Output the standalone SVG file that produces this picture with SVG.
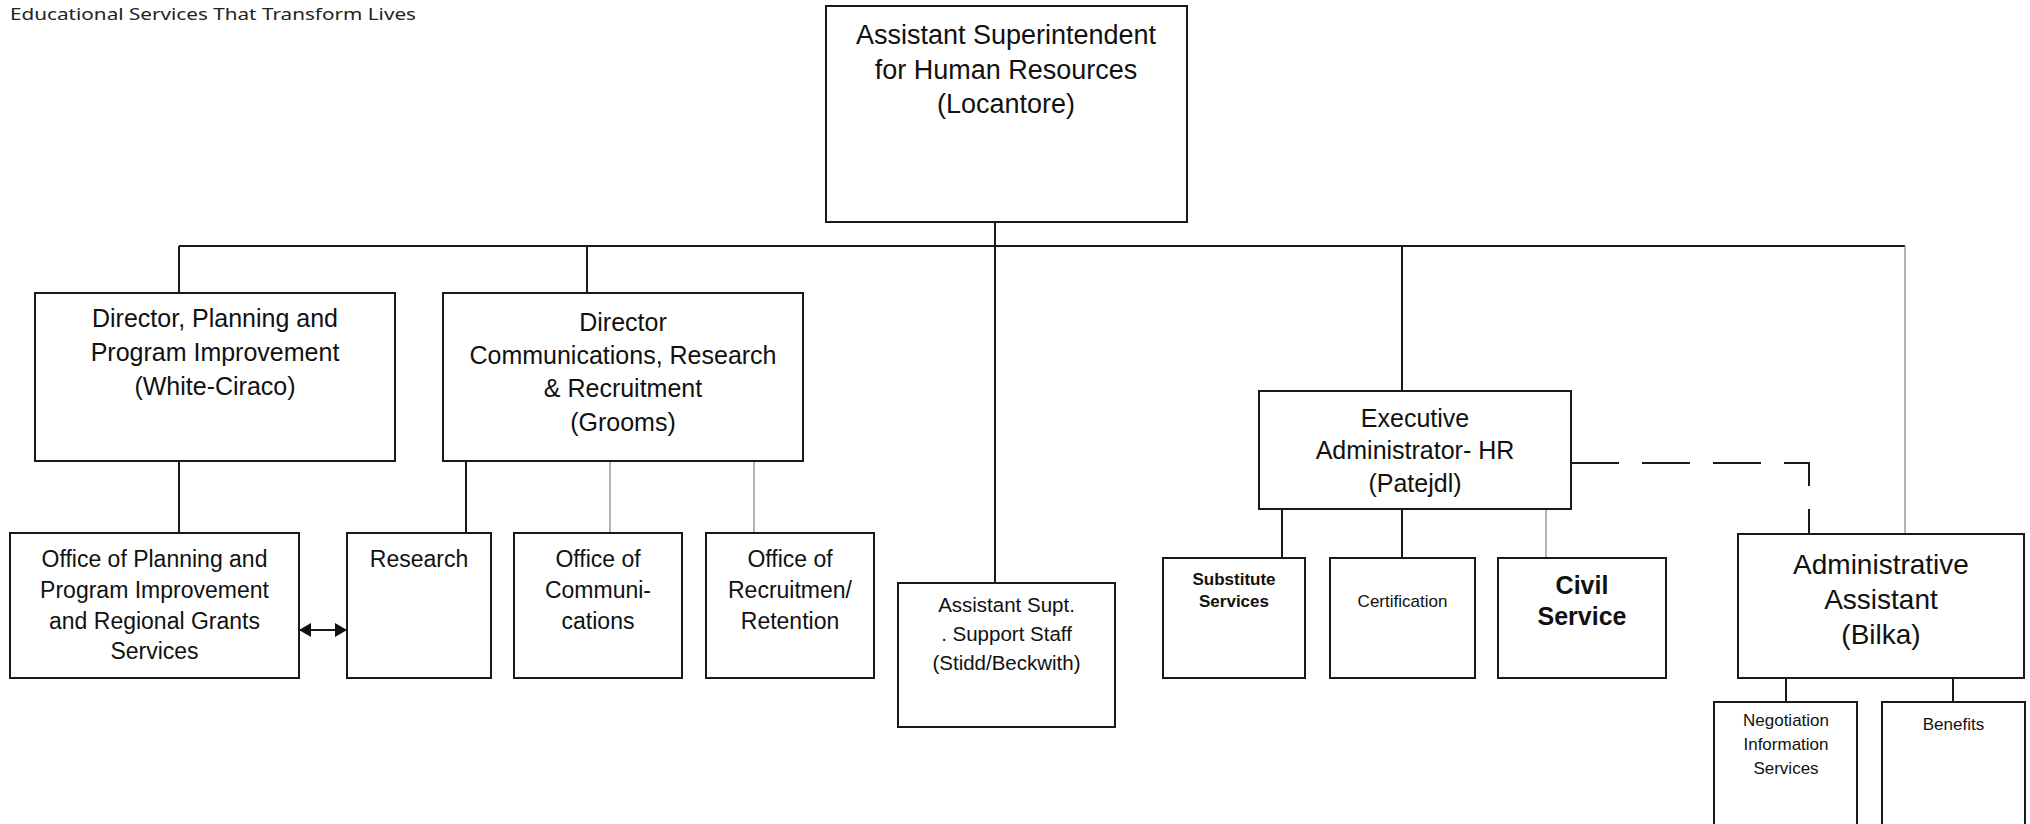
<svg xmlns="http://www.w3.org/2000/svg" width="2030" height="824" viewBox="0 0 2030 824">
<defs>
<style>
.box{fill:#fff;stroke:#1a1a1a;stroke-width:2}
.ln{stroke:#1a1a1a;stroke-width:2;fill:none}
.thin{stroke:#8a8a8a;stroke-width:1.3;fill:none}
.dash{stroke:#1a1a1a;stroke-width:2;fill:none;stroke-dasharray:48 23}
text{font-family:"Liberation Sans",Arial,sans-serif;fill:#111;text-anchor:middle}
.t27{font-size:27px}
.t25{font-size:25px}
.t23{font-size:23px}
.t21{font-size:20.5px}
.t17{font-size:17px}
.b17{font-size:17px;font-weight:bold}
.b25{font-size:25px;font-weight:bold}
.t28{font-size:28px}
.hdr{font-family:"Noto Sans","Open Sans",sans-serif;font-size:17px;text-anchor:start;fill:#222}
</style>
<marker id="ah" viewBox="0 0 12 14" refX="11" refY="7" markerWidth="12" markerHeight="14" markerUnits="userSpaceOnUse" orient="auto-start-reverse">
<path d="M0,0 L12,7 L0,14 z" fill="#111"/>
</marker>
</defs>
<rect width="2030" height="824" fill="#fff"/>
<text class="hdr" x="10" y="20" textLength="406" lengthAdjust="spacingAndGlyphs">Educational Services That Transform Lives</text>

<g id="connectors">
<path class="ln" d="M995,222 V246"/>
<path class="ln" d="M179,246 H1905"/>
<path class="ln" d="M179,246 V293"/>
<path class="ln" d="M587,246 V293"/>
<path class="ln" d="M995,246 V583"/>
<path class="ln" d="M1402,246 V391"/>
<path class="thin" d="M1905,246 V534"/>
<path class="ln" d="M179,461 V533"/>
<path class="ln" d="M466,461 V533"/>
<path class="thin" d="M610,461 V533"/>
<path class="thin" d="M754,461 V533"/>
<path class="ln" d="M1282,509 V558"/>
<path class="ln" d="M1402,509 V558"/>
<path class="thin" d="M1546,509 V558"/>
<path class="dash" d="M1571,463 H1809 V534"/>
<path class="ln" d="M1786,678 V702"/>
<path class="ln" d="M1953,678 V702"/>
<path class="ln" d="M300,630 H346" marker-start="url(#ah)" marker-end="url(#ah)"/>
</g>

<g id="n-asst-super">
<rect class="box" x="826" y="6" width="361" height="216"/>
<text class="t27" x="1006" y="44">Assistant Superintendent</text>
<text class="t27" x="1006" y="79">for Human Resources</text>
<text class="t27" x="1006" y="113">(Locantore)</text>
</g>

<g id="n-dir-planning">
<rect class="box" x="35" y="293" width="360" height="168"/>
<text class="t25" x="215" y="327">Director, Planning and</text>
<text class="t25" x="215" y="361">Program Improvement</text>
<text class="t25" x="215" y="395">(White-Ciraco)</text>
</g>

<g id="n-dir-comm">
<rect class="box" x="443" y="293" width="360" height="168"/>
<text class="t25" x="623" y="331">Director</text>
<text class="t25" x="623" y="364">Communications, Research</text>
<text class="t25" x="623" y="397">&amp; Recruitment</text>
<text class="t25" x="623" y="431">(Grooms)</text>
</g>

<g id="n-office-planning">
<rect class="box" x="10" y="533" width="289" height="145"/>
<text class="t23" x="154.5" y="567">Office of Planning and</text>
<text class="t23" x="154.5" y="598">Program Improvement</text>
<text class="t23" x="154.5" y="629">and Regional Grants</text>
<text class="t23" x="154.5" y="659">Services</text>
</g>

<g id="n-research">
<rect class="box" x="347" y="533" width="144" height="145"/>
<text class="t23" x="419" y="567">Research</text>
</g>

<g id="n-office-comm">
<rect class="box" x="514" y="533" width="168" height="145"/>
<text class="t23" x="598" y="567">Office of</text>
<text class="t23" x="598" y="598">Communi-</text>
<text class="t23" x="598" y="629">cations</text>
</g>

<g id="n-office-recruit">
<rect class="box" x="706" y="533" width="168" height="145"/>
<text class="t23" x="790" y="567">Office of</text>
<text class="t23" x="790" y="598">Recruitmen/</text>
<text class="t23" x="790" y="629">Retention</text>
</g>

<g id="n-asst-supt-support">
<rect class="box" x="898" y="583" width="217" height="144"/>
<text class="t21" x="1006.5" y="612">Assistant Supt.</text>
<text class="t21" x="1006.5" y="641">.  Support Staff</text>
<text class="t21" x="1006.5" y="670">(Stidd/Beckwith)</text>
</g>

<g id="n-exec-admin">
<rect class="box" x="1259" y="391" width="312" height="118"/>
<text class="t25" x="1415" y="427">Executive</text>
<text class="t25" x="1415" y="459">Administrator- HR</text>
<text class="t25" x="1415" y="492">(Patejdl)</text>
</g>

<g id="n-substitute">
<rect class="box" x="1163" y="558" width="142" height="120"/>
<text class="b17" x="1234" y="585">Substitute</text>
<text class="b17" x="1234" y="607">Services</text>
</g>

<g id="n-certification">
<rect class="box" x="1330" y="558" width="145" height="120"/>
<text class="t17" x="1402.5" y="607">Certification</text>
</g>

<g id="n-civil">
<rect class="box" x="1498" y="558" width="168" height="120"/>
<text class="b25" x="1582" y="594">Civil</text>
<text class="b25" x="1582" y="625">Service</text>
</g>

<g id="n-admin-asst">
<rect class="box" x="1738" y="534" width="286" height="144"/>
<text class="t28" x="1881" y="574">Administrative</text>
<text class="t28" x="1881" y="609">Assistant</text>
<text class="t28" x="1881" y="644">(Bilka)</text>
</g>

<g id="n-negotiation">
<rect class="box" x="1714" y="702" width="143" height="130"/>
<text class="t17" x="1786" y="726">Negotiation</text>
<text class="t17" x="1786" y="750">Information</text>
<text class="t17" x="1786" y="774">Services</text>
</g>

<g id="n-benefits">
<rect class="box" x="1882" y="702" width="143" height="130"/>
<text class="t17" x="1953.5" y="730">Benefits</text>
</g>
</svg>
